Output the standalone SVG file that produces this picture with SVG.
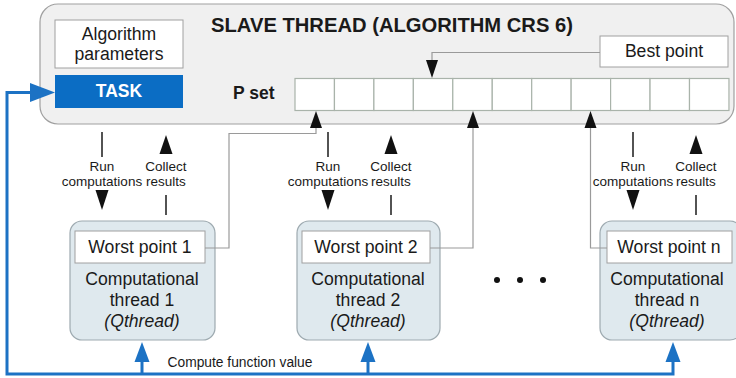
<svg xmlns="http://www.w3.org/2000/svg" width="736" height="378" viewBox="0 0 736 378">
<style>
text{font-family:"Liberation Sans",Arial,sans-serif;fill:#1a1a1a}
.b{font-weight:bold}
.c{text-anchor:middle}
.lab{font-size:17.6px}
.sm{font-size:13.5px}
.wbox{fill:#fff;stroke:#a0a0a0;stroke-width:1}
.cell{fill:#fff;stroke:#a9b3aa;stroke-width:1.2}
.thr{fill:#dfe9ee;stroke:#9eaab0;stroke-width:1.2}
.gl{fill:none;stroke:#9a9a9a;stroke-width:1.2}
.kl{fill:none;stroke:#1a1a1a;stroke-width:1.5}
.bl{fill:none;stroke:#1c72c4;stroke-width:3}
.ah{fill:#111}
.bh{fill:#1c72c4}
</style>
<g id="slave">
<rect x="40" y="4" width="694" height="120" rx="18" fill="#f0f0f0" stroke="#a0a0a0" stroke-width="1.2"/>
<text class="b c" x="392" y="32" font-size="20.2">SLAVE THREAD (ALGORITHM CRS 6)</text>
</g>
<g id="params">
<rect class="wbox" x="55" y="20" width="128" height="48"/>
<text class="c lab" x="119" y="40">Algorithm</text>
<text class="c lab" x="119" y="60">parameters</text>
</g>
<g id="task">
<rect x="55" y="75" width="128" height="33" fill="#0b6dc4"/>
<text class="b c" x="119" y="97" font-size="17.5" style="fill:#fff">TASK</text>
</g>
<g id="pset">
<text class="b" x="233" y="99" font-size="17.5">P set</text>
<rect class="cell" x="295" y="78.5" width="39.45" height="32"/>
<rect class="cell" x="334.45" y="78.5" width="39.45" height="32"/>
<rect class="cell" x="373.9" y="78.5" width="39.45" height="32"/>
<rect class="cell" x="413.35" y="78.5" width="39.45" height="32"/>
<rect class="cell" x="452.8" y="78.5" width="39.45" height="32"/>
<rect class="cell" x="492.25" y="78.5" width="39.45" height="32"/>
<rect class="cell" x="531.7" y="78.5" width="39.45" height="32"/>
<rect class="cell" x="571.15" y="78.5" width="39.45" height="32"/>
<rect class="cell" x="610.6" y="78.5" width="39.45" height="32"/>
<rect class="cell" x="650.05" y="78.5" width="39.45" height="32"/>
<rect class="cell" x="689.5" y="78.5" width="39.45" height="32"/>
</g>
<g id="best">
<rect class="wbox" x="600" y="36" width="128" height="31"/>
<text class="c lab" x="664" y="57">Best point</text>
</g>
<g id="thread1">
<rect class="thr" x="70" y="221" width="145" height="119" rx="12"/>
<rect class="wbox" x="75" y="231" width="130" height="32"/>
<text class="c lab" x="140" y="253">Worst point 1</text>
<text class="c lab" x="142" y="285">Computational</text>
<text class="c lab" x="142" y="306">thread 1</text>
<text class="c lab" x="142" y="327" font-style="italic">(Qthread)</text>
</g>
<g id="thread2">
<rect class="thr" x="297" y="221" width="143" height="119" rx="12"/>
<rect class="wbox" x="302" y="231" width="128" height="32"/>
<text class="c lab" x="366" y="253">Worst point 2</text>
<text class="c lab" x="368" y="285">Computational</text>
<text class="c lab" x="368" y="306">thread 2</text>
<text class="c lab" x="368" y="327" font-style="italic">(Qthread)</text>
</g>
<g id="threadn">
<rect class="thr" x="600" y="221" width="142" height="119" rx="12"/>
<rect class="wbox" x="607" y="231" width="125" height="32"/>
<text class="c lab" x="669" y="253">Worst point n</text>
<text class="c lab" x="667" y="285">Computational</text>
<text class="c lab" x="667" y="306">thread n</text>
<text class="c lab" x="667" y="327" font-style="italic">(Qthread)</text>
</g>
<g id="dots">
<circle cx="497" cy="280" r="3" fill="#111"/>
<circle cx="520" cy="280" r="3" fill="#111"/>
<circle cx="543" cy="280" r="3" fill="#111"/>
</g>
<g id="connectors">
<path class="gl" d="M600 52.5H432V62"/>
<polygon class="ah" points="426,60 438,60 432,78"/>
<path class="gl" d="M205 248H229V133.5H316V126"/>
<polygon class="ah" points="310,128 322,128 316,111"/>
<path class="gl" d="M430 248H473V126"/>
<polygon class="ah" points="467,128 479,128 473,111"/>
<path class="gl" d="M607 248H590.5V126"/>
<polygon class="ah" points="584.5,128 596.5,128 590.5,111"/>
<g id="rc1">
<path class="kl" d="M102 132V157"/>
<polygon class="ah" points="95.5,190 108.5,190 102,210"/>
<text class="c sm" x="102" y="171">Run</text>
<text class="c sm" x="102" y="186">computations</text>
<path class="kl" d="M166 195V215"/>
<polygon class="ah" points="159.5,154 172.5,154 166,135"/>
<text class="c sm" x="166" y="171">Collect</text>
<text class="c sm" x="166" y="186">results</text>
</g>
<g id="rc2">
<path class="kl" d="M328 132V157"/>
<polygon class="ah" points="321.5,190 334.5,190 328,210"/>
<text class="c sm" x="328" y="171">Run</text>
<text class="c sm" x="328" y="186">computations</text>
<path class="kl" d="M391 195V215"/>
<polygon class="ah" points="384.5,154 397.5,154 391,135"/>
<text class="c sm" x="391" y="171">Collect</text>
<text class="c sm" x="391" y="186">results</text>
</g>
<g id="rcn">
<path class="kl" d="M633 132V157"/>
<polygon class="ah" points="626.5,190 639.5,190 633,210"/>
<text class="c sm" x="633" y="171">Run</text>
<text class="c sm" x="633" y="186">computations</text>
<path class="kl" d="M696 195V215"/>
<polygon class="ah" points="689.5,154 702.5,154 696,135"/>
<text class="c sm" x="696" y="171">Collect</text>
<text class="c sm" x="696" y="186">results</text>
</g>
<path class="bl" d="M35 92.5H7V374H673V358"/>
<polygon class="bh" points="30,83 30,102 55,92.5"/>
<path class="bl" d="M142 374V358"/>
<polygon class="bh" points="134.5,362 149.5,362 142,342"/>
<path class="bl" d="M368 374V358"/>
<polygon class="bh" points="360.5,362 375.5,362 368,342"/>
<polygon class="bh" points="665.5,362 680.5,362 673,342"/>
<text class="c" x="240" y="367" font-size="13.8">Compute function value</text>
</g>
</svg>
